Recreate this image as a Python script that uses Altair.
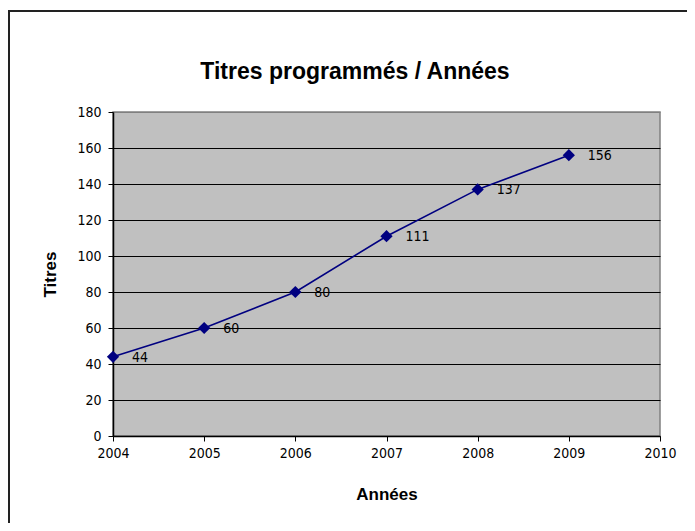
import altair as alt
import pandas as pd

years = [2004, 2005, 2006, 2007, 2008, 2009]
titres = [44, 60, 80, 111, 137, 156]
labels = ["44", "60", "80", "111", "137", "156"]
x_ticks = [2004, 2005, 2006, 2007, 2008, 2009, 2010]
y_ticks = [0, 20, 40, 60, 80, 100, 120, 140, 160, 180]
chart_title = "Titres programmés / Années"

df = pd.DataFrame({"annee": years, "titres": titres, "label": labels})

narrow = "Liberation Sans Narrow, DejaVu Sans Condensed, Liberation Sans, Arial"
bold = "Liberation Sans, Arial"
navy = "#000080"

x = alt.X("annee:Q",
          scale=alt.Scale(domain=[2004, 2010], nice=False, zero=False),
          axis=alt.Axis(values=x_ticks, format="d", grid=False, title="Années",
                        titleFont=bold, titleFontSize=17, titleFontWeight="bold",
                        titleColor="black", titleBaseline="middle", titleY=58,
                        labelFont=narrow, labelFontSize=14, labelColor="black",
                        labelPadding=5, tickSize=5, tickColor="black",
                        domainColor="black", domainWidth=1.5, labelFlush=False))
y = alt.Y("titres:Q",
          scale=alt.Scale(domain=[0, 180], nice=False),
          axis=alt.Axis(values=y_ticks, grid=True,
                        gridColor=alt.condition("datum.value >= 180",
                                                alt.value("#808080"),
                                                alt.value("black")),
                        gridWidth=1,
                        title="Titres", titleFont=bold, titleFontSize=17,
                        titleFontWeight="bold", titleColor="black",
                        titleAngle=270, titleAlign="center", titleBaseline="middle",
                        titleX=-63, titleY=162,
                        labelFont=narrow, labelFontSize=14, labelColor="black",
                        labelPadding=7, tickSize=5, tickColor="black",
                        domainColor="black", domainWidth=1.5))

base = alt.Chart(df)
line = base.mark_line(color=navy, strokeWidth=1.6).encode(x=x, y=y)
pts = base.mark_point(shape="diamond", filled=True, color=navy, opacity=1,
                      size=150).encode(x=x, y=y)
txt = base.mark_text(align="left", baseline="middle", dx=19, dy=1,
                     font=narrow, fontSize=14, color="black").encode(
    x=x, y=y, text="label:N")

frame = alt.Chart(pd.DataFrame({"t": [chart_title]})).mark_rect(
    fill=None, stroke="#222222", strokeWidth=2, clip=False).encode(
    x=alt.value(-104), x2=alt.value(602), y=alt.value(-101), y2=alt.value(440))
title = alt.Chart(pd.DataFrame({"t": [chart_title]})).mark_text(
    font=bold, fontSize=23, fontWeight="bold", color="black",
    align="center", baseline="alphabetic").encode(
    x=alt.value(242), y=alt.value(-33), text="t:N")

chart = alt.layer(line, pts, txt, frame, title).properties(
    width=547, height=324,
    background="white",
    autosize=alt.AutoSizeParams(type="none"),
    padding={"left": 105, "top": 104, "right": 27, "bottom": 87},
).configure_view(fill="#C0C0C0", stroke="#808080", strokeWidth=1.5)

chart.save("out.html", embed_options={"renderer": "svg", "actions": False})
